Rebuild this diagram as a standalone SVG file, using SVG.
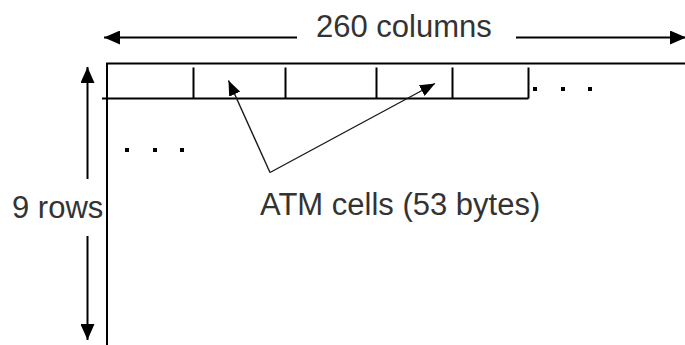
<svg xmlns="http://www.w3.org/2000/svg" width="685" height="345" viewBox="0 0 685 345">
  <defs>
    <marker id="head" viewBox="0 0 16 14" refX="16" refY="7" markerWidth="16" markerHeight="14" markerUnits="userSpaceOnUse" orient="auto">
      <path d="M0,0 L16,7 L0,14 Z" fill="#000"/>
    </marker>
    <marker id="headSmall" viewBox="0 0 15 12" refX="15" refY="6" markerWidth="15" markerHeight="12" markerUnits="userSpaceOnUse" orient="auto">
      <path d="M0,0 L15,6 L0,12 Z" fill="#000"/>
    </marker>
    <style>
      .line { stroke: #000; stroke-width: 2; fill: none; }
      .thin { stroke: #1a1a1a; stroke-width: 1.4; fill: none; }
      .label { font-family: "Liberation Sans", Arial, sans-serif; font-size: 31px; fill: #333; }
      .dot { fill: #000; }
    </style>
  </defs>

  <!-- frame: left edge, top edge and the row of cells -->
  <g id="frame">
    <line class="line" x1="107" y1="63.5" x2="107" y2="345"/>
    <line class="line" x1="106" y1="63.5" x2="685" y2="63.5"/>
    <line class="line" x1="102" y1="98.5" x2="528.5" y2="98.5"/>
    <line class="line" x1="193.5" y1="67.5" x2="193.5" y2="98.5"/>
    <line class="line" x1="285.5" y1="67.5" x2="285.5" y2="98.5"/>
    <line class="line" x1="376.5" y1="67.5" x2="376.5" y2="98.5"/>
    <line class="line" x1="452.5" y1="67.5" x2="452.5" y2="98.5"/>
    <line class="line" x1="528.5" y1="67.5" x2="528.5" y2="98.5"/>
  </g>

  <!-- ellipsis marks -->
  <g id="dots">
    <rect class="dot" x="533" y="87" width="4" height="4"/>
    <rect class="dot" x="561" y="87" width="4" height="4"/>
    <rect class="dot" x="588" y="87" width="4" height="4"/>
    <rect class="dot" x="125" y="148" width="4" height="4"/>
    <rect class="dot" x="153" y="148" width="4" height="4"/>
    <rect class="dot" x="180" y="148" width="4" height="4"/>
  </g>

  <g id="columns-label">
    <text class="label" x="316" y="37">260 columns</text>
  </g>
  <g id="rows-label">
    <text class="label" x="12" y="218">9 rows</text>
  </g>
  <g id="atm-label">
    <text class="label" x="260" y="215">ATM cells (53 bytes)</text>
  </g>

  <!-- dimension arrows and cell pointers -->
  <g id="connectors">
    <line class="line" x1="297" y1="37.5" x2="104" y2="37.5" marker-end="url(#head)"/>
    <line class="line" x1="516" y1="37.5" x2="686" y2="37.5" marker-end="url(#head)"/>
    <line class="line" x1="87.5" y1="179" x2="87.5" y2="67" marker-end="url(#head)"/>
    <line class="line" x1="87.5" y1="236" x2="87.5" y2="340" marker-end="url(#head)"/>
    <line class="thin" x1="270" y1="172.5" x2="228.5" y2="80.5" marker-end="url(#headSmall)"/>
    <line class="thin" x1="270" y1="172.5" x2="435" y2="83.5" marker-end="url(#headSmall)"/>
  </g>
</svg>
